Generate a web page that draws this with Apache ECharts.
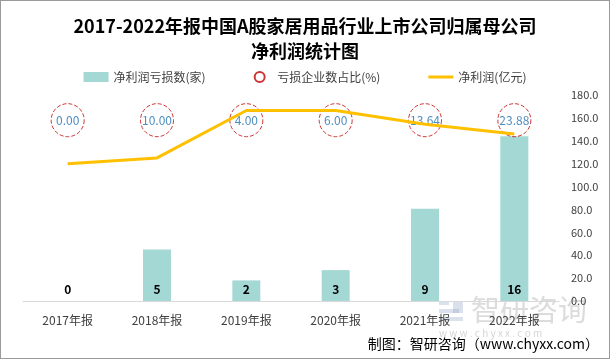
<!DOCTYPE html>
<html><head><meta charset="utf-8">
<script src="https://cdn.jsdelivr.net/npm/echarts@6/dist/echarts.min.js"></script>
<style>html,body{margin:0;padding:0;background:#fff}#c{width:608px;height:357px;border:1px solid #9a9a9a}</style>
</head><body><div id="c"></div>
<script>
const categories = ['2017年报','2018年报','2019年报','2020年报','2021年报','2022年报'];
const barHeights = [0, 45, 18, 27, 80.5, 144];
const lossCounts = [0, 5, 2, 3, 9, 16];
const lossRatio = ['0.00','10.00','4.00','6.00','13.64','23.88'];
const netProfit = [120, 125, 166.5, 166.5, 154.5, 146];
const circleLevel = [158, 158, 158, 158, 158, 158];
const yTicks = {min:0, max:180, interval:20};

const chart = echarts.init(document.getElementById('c'));
const font = '"Noto Sans CJK SC", "Microsoft YaHei", sans-serif';
chart.setOption({
  animation:false,
  textStyle:{fontFamily:font},
  title:{text:'2017-2022年报中国A股家居用品行业上市公司归属母公司\n净利润统计图', left:'center', top:8,
    textStyle:{fontSize:18, fontWeight:'bold', color:'#000', lineHeight:25, fontFamily:font}},
  legend:{top:65, left:'center', itemGap:48, itemWidth:25, itemHeight:10,
    textStyle:{fontSize:12, color:'#404040', fontFamily:font},
    data:[{name:'净利润亏损数(家)', icon:'rect'},
          {name:'亏损企业数占比(%)', icon:'circle'},
          {name:'净利润(亿元)', icon:'path://M0,0 L25,0 L25,3 L0,3 Z', itemStyle:{color:'#FFC000'}}]},
  grid:{left:22, right:50, top:94, bottom:57},
  xAxis:{type:'category', data:categories, axisLine:{lineStyle:{color:'#d9d9d9'}}, axisTick:{show:false},
    axisLabel:{color:'#404040', fontSize:12, margin:13}},
  yAxis:{type:'value', position:'right', min:yTicks.min, max:yTicks.max, interval:yTicks.interval,
    splitLine:{show:false}, axisLine:{show:false}, axisTick:{show:false},
    axisLabel:{color:'#404040', fontSize:11, formatter:v=>v.toFixed(1), margin:12}},
  series:[
    {name:'净利润亏损数(家)', type:'bar', data:barHeights, barWidth:28, itemStyle:{color:'#A3D8D5'},
      label:{show:true, position:'insideBottom', distance:6, color:'#000', fontSize:12, fontWeight:'bold',
        formatter:p=>String(lossCounts[p.dataIndex])}},
    {name:'亏损企业数占比(%)', type:'scatter', data:circleLevel, symbolSize:33, z:3,
      itemStyle:{color:'rgba(255,255,255,0)', borderColor:'#C00000', borderType:'dashed', borderWidth:1},
      label:{show:true, position:'inside', color:'#1F6FB0', fontSize:12, formatter:p=>lossRatio[p.dataIndex]}},
    {name:'净利润(亿元)', type:'line', data:netProfit, symbol:'none', z:4,
      lineStyle:{color:'#FFC000', width:3}, itemStyle:{color:'#FFC000'}}
  ],
  graphic:[
    {type:'rect', left:438, top:300, z:0, shape:{width:10, height:4}, style:{fill:'rgba(150,170,200,0.35)'}},
    {type:'rect', left:438, top:308, z:0, shape:{width:20, height:4}, style:{fill:'rgba(150,170,200,0.35)'}},
    {type:'rect', left:438, top:316, z:0, shape:{width:24, height:4}, style:{fill:'rgba(150,170,200,0.35)'}},
    {type:'rect', left:452, top:300, z:0, shape:{width:10, height:12}, style:{fill:'rgba(150,170,200,0.35)'}},
    {type:'text', left:470, top:294, z:0, style:{text:'智研咨询', fontSize:29, fill:'rgba(185,185,185,0.5)', fontFamily:font}},
    {type:'text', left:438, top:327, z:0, style:{text:'w w w . c h y x x . c o m', fontSize:10, fill:'rgba(185,185,185,0.6)', fontFamily:font}},
    {type:'text', right:10, top:336, style:{text:'制图：智研咨询（www.chyxx.com）', fontSize:14, fill:'#000', fontFamily:font}}
  ]
});
</script></body></html>
